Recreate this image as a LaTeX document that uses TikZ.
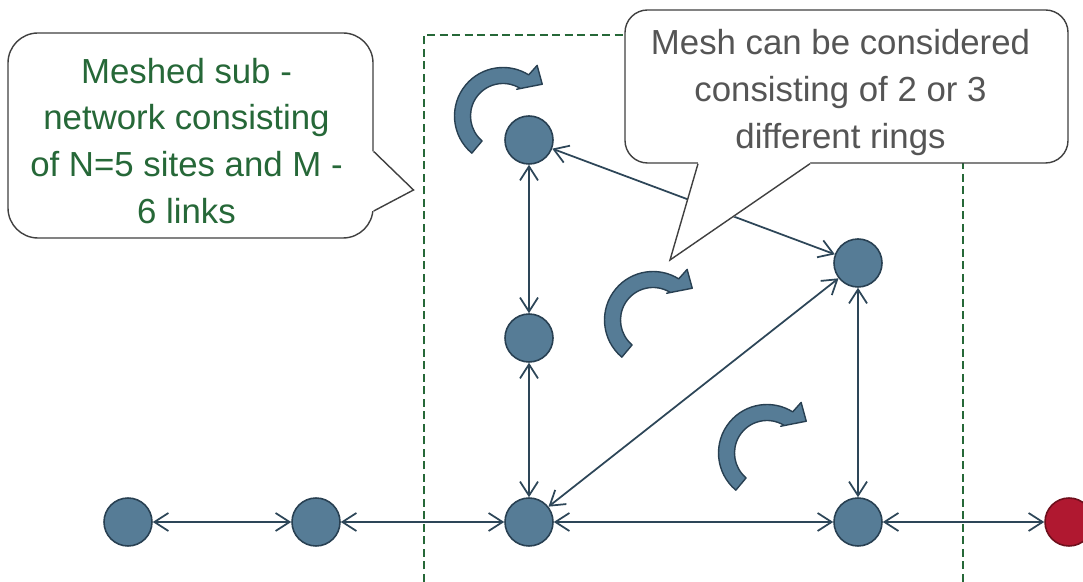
\documentclass[tikz,border=0pt]{standalone}
\usepackage{fontspec}
\setmainfont{Liberation Sans}
\usetikzlibrary{arrows.meta}

\definecolor{sitefill}{RGB}{86,124,150}
\definecolor{siteline}{RGB}{40,64,82}
\definecolor{linkcol}{RGB}{45,70,88}
\definecolor{meshgreen}{RGB}{38,104,56}
\definecolor{notegray}{RGB}{85,85,85}
\definecolor{exitred}{RGB}{176,24,48}
\definecolor{exitline}{RGB}{110,15,28}

\begin{document}
\begin{tikzpicture}[
    >={Straight Barb[length=2.8mm,width=3.6mm]},
    site/.style={circle,draw=siteline,fill=sitefill,line width=0.9pt,minimum size=0.96cm,inner sep=0pt},
    link/.style={linkcol,line width=1pt},
    note/.style={draw=black!75,fill=white,line width=0.8pt},
    notetext/.style={align=center,font=\fontsize{19.8}{26.7}\selectfont},
    ringarrow/.pic={
      \draw[draw=siteline,fill=sitefill,line width=0.8pt,line join=round]
        (230:0.97) arc[start angle=230,end angle=58,radius=0.97]
        -- (56:1.22) -- (39:1.01) -- (63:0.60) -- (58:0.65)
        arc[start angle=58,end angle=230,radius=0.65] -- cycle;
    }]
  \useasboundingbox (0,0) rectangle (21.66,11.64);

  % meshed sub-network frame
  \draw[meshgreen,line width=1.1pt,dash pattern=on 0.16cm off 0.09cm]
    (8.48,-0.5) -- (8.48,10.94) -- (19.26,10.94) -- (19.26,-0.5);

  % sites
  \node[site] (a) at (2.56,1.20) {};
  \node[site] (b) at (6.32,1.20) {};
  \node[site] (c) at (10.58,1.20) {};
  \node[site] (d) at (17.16,1.20) {};
  \node[site,fill=exitred,draw=exitline] (e) at (21.38,1.20) {};
  \node[site] (f) at (10.58,4.88) {};
  \node[site] (g) at (10.58,8.84) {};
  \node[site] (h) at (17.16,6.38) {};

  % links
  \draw[link,<->] (a) -- (b);
  \draw[link,<->] (b) -- (c);
  \draw[link,<->] (c) -- (d);
  \draw[link,<->] (d) -- (e);
  \draw[link,<->] (c) -- (f);
  \draw[link,<->] (f) -- (g);
  \draw[link,<->] (g) -- (h);
  \draw[link,<->] (c) -- (h);
  \draw[link,<->] (d) -- (h);

  % rings
  \pic at (10.06,9.32) {ringarrow};
  \pic at (13.06,5.24) {ringarrow};
  \pic at (15.34,2.58) {ringarrow};

  % callouts
  \node[note,rounded corners=0.6cm,minimum width=7.30cm,minimum height=4.10cm] (sub) at (3.81,8.93) {};
  \coordinate (subtip) at (8.27,7.84);
  \fill[white] ([xshift=-0.06cm,yshift=-0.32cm]sub.east) -- ([xshift=0.04cm,yshift=-0.32cm]sub.east)
    -- (subtip) -- ([xshift=0.04cm,yshift=-1.51cm]sub.east) -- ([xshift=-0.06cm,yshift=-1.51cm]sub.east) -- cycle;
  \draw[black!75,line width=0.8pt] ([yshift=-0.32cm]sub.east) -- (subtip) -- ([yshift=-1.51cm]sub.east);
  \node[notetext,text=meshgreen] (subtext) at ([xshift=-0.08cm,yshift=-0.11cm]sub.center)
    {Meshed sub -\\network consisting\\of N=5 sites and M -\\6 links};

  \node[note,rounded corners=0.45cm,minimum width=8.86cm,minimum height=3.06cm] (mesh) at (16.93,9.91) {};
  \coordinate (meshtip) at (13.40,6.44);
  \fill[white] ([xshift=-2.97cm,yshift=0.06cm]mesh.south) -- ([xshift=-2.97cm,yshift=-0.04cm]mesh.south)
    -- (meshtip) -- ([xshift=-0.73cm,yshift=-0.04cm]mesh.south) -- ([xshift=-0.73cm,yshift=0.06cm]mesh.south) -- cycle;
  \draw[black!75,line width=0.8pt] ([xshift=-2.97cm]mesh.south) -- (meshtip) -- ([xshift=-0.73cm]mesh.south);
  \node[notetext,text=notegray] (meshtext) at ([xshift=-0.12cm,yshift=-0.12cm]mesh.center)
    {Mesh can be considered\\consisting of 2 or 3\\different rings};
\end{tikzpicture}
\end{document}
